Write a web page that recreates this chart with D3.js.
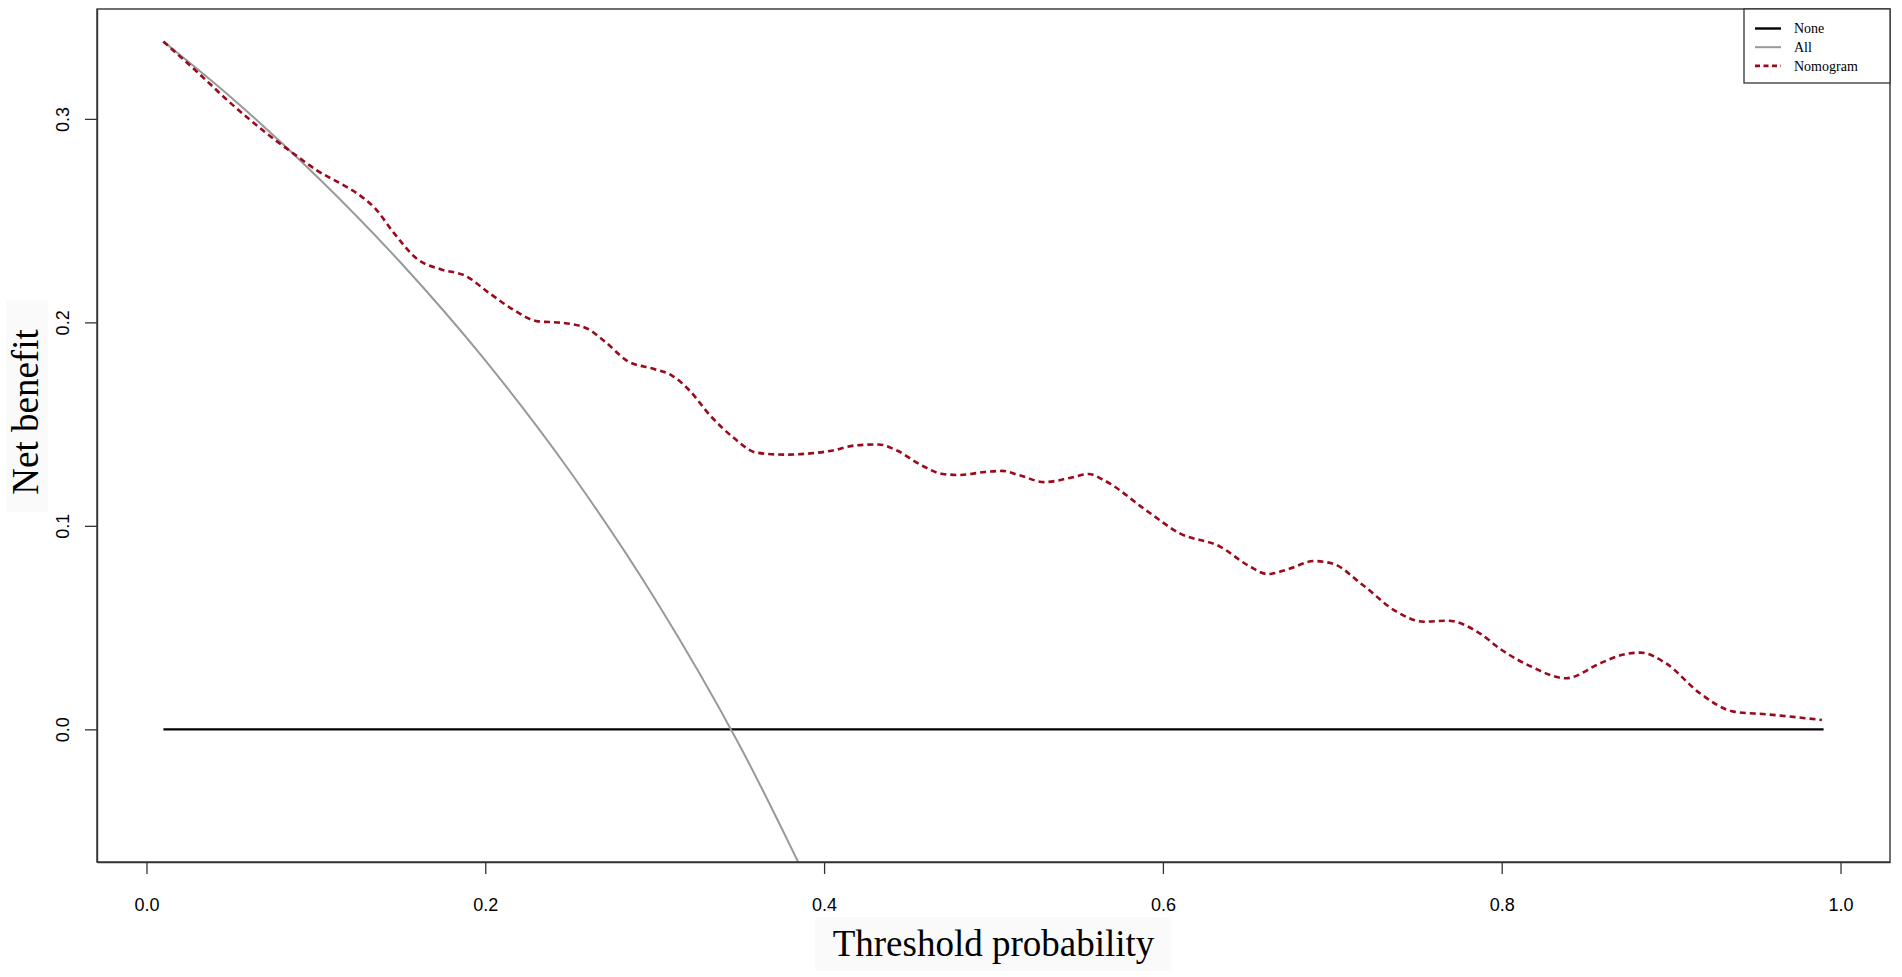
<!DOCTYPE html>
<html>
<head>
<meta charset="utf-8">
<script src="https://cdn.jsdelivr.net/npm/d3@7"></script>
<style>
  body { margin: 0; background: #fff; }
  svg { display: block; }
</style>
</head>
<body>
<svg id="chart"></svg>
<script>
// values
var xTicks = [0.0, 0.2, 0.4, 0.6, 0.8, 1.0];
var yTicks = [0.0, 0.1, 0.2, 0.3];

var nonePts = [[0.01, 0], [0.99, 0]];

var allPts = [
  [0.01, 0.338], [0.05, 0.3105], [0.10, 0.2722], [0.15, 0.2294],
  [0.20, 0.1813], [0.25, 0.1267], [0.30, 0.0643], [0.35, -0.0077],
  [0.40, -0.0917]
];

var nomoThresh = [
  0.01, 0.03, 0.05, 0.07, 0.09, 0.10, 0.115, 0.125, 0.135, 0.146,
  0.16, 0.174, 0.188, 0.203, 0.217, 0.231, 0.245, 0.26, 0.27, 0.284,
  0.30, 0.31, 0.32, 0.333, 0.347, 0.36, 0.376, 0.392, 0.405, 0.418,
  0.432, 0.443, 0.457, 0.47, 0.48, 0.495, 0.505, 0.515, 0.53, 0.545,
  0.556, 0.565, 0.59, 0.61, 0.634, 0.65, 0.662, 0.675, 0.689, 0.70,
  0.718, 0.738, 0.754, 0.768, 0.787, 0.80, 0.817, 0.838, 0.858, 0.872,
  0.882, 0.897, 0.917, 0.937, 0.956, 0.989
];
var nomoBenefit = [
  0.338, 0.323, 0.3075, 0.2935, 0.281, 0.275, 0.268, 0.263, 0.256, 0.244,
  0.231, 0.226, 0.223, 0.214, 0.206, 0.2005, 0.1998, 0.197, 0.191, 0.181,
  0.177, 0.174, 0.167, 0.154, 0.143, 0.136, 0.135, 0.1356, 0.137, 0.1395,
  0.140, 0.137, 0.130, 0.1255, 0.125, 0.1265, 0.127, 0.125, 0.1215, 0.1235,
  0.1255, 0.1225, 0.1077, 0.0963, 0.0897, 0.0807, 0.0763, 0.079, 0.0827, 0.0815,
  0.0709, 0.0578, 0.0529, 0.0534, 0.0472, 0.039, 0.031, 0.0251, 0.0324, 0.0368,
  0.0377, 0.0324, 0.0177, 0.0087, 0.0074, 0.0046
];

var legendKeys = ["None", "All", "Nomogram"];

var W = 1902, H = 977;
var box = {left: 97, right: 1890, top: 9, bottom: 862};

var svg = d3.select("#chart")
    .attr("width", W)
    .attr("height", H);

var x = d3.scaleLinear()
  .domain([-0.0292, 1.0292])
  .range([box.left, box.right]);

var y = d3.scaleLinear()
  .domain([-0.0652, 0.354])
  .range([box.bottom, box.top]);

var styles = {
  "None": {stroke: "#000", width: 2.4, dash: null},
  "All": {stroke: "#999", width: 2, dash: null},
  "Nomogram": {stroke: "#9b0a1c", width: 2.6, dash: "6,4"}
};

svg.append("defs").append("clipPath")
    .attr("id", "plotclip")
  .append("rect")
    .attr("x", box.left)
    .attr("y", box.top)
    .attr("width", box.right - box.left)
    .attr("height", box.bottom - box.top);

// faint backgrounds behind the axis titles
svg.append("rect")
  .attr("x", 815).attr("y", 917)
  .attr("width", 356).attr("height", 54)
  .attr("fill", "#fafafa");
svg.append("rect")
  .attr("x", 6).attr("y", 300)
  .attr("width", 42).attr("height", 212)
  .attr("fill", "#fafafa");

var line = d3.line()
  .x(function(d) { return x(d[0]); })
  .y(function(d) { return y(d[1]); })
  .curve(d3.curveMonotoneX);

var nomoPts = nomoThresh.map(function(t, i) { return [t, nomoBenefit[i]]; });

var series = [
  {key: "None", values: nonePts},
  {key: "All", values: allPts},
  {key: "Nomogram", values: nomoPts}
];

svg.append("g")
    .attr("clip-path", "url(#plotclip)")
  .selectAll("path")
  .data(series)
  .enter().append("path")
    .attr("d", function(d) { return line(d.values); })
    .attr("fill", "none")
    .attr("stroke", function(d) { return styles[d.key].stroke; })
    .attr("stroke-width", function(d) { return styles[d.key].width; })
    .attr("stroke-dasharray", function(d) { return styles[d.key].dash; });

// plot frame
svg.append("rect")
  .attr("x", box.left)
  .attr("y", box.top)
  .attr("width", box.right - box.left)
  .attr("height", box.bottom - box.top)
  .attr("fill", "none")
  .attr("stroke", "#333")
  .attr("stroke-width", 1.4);

// x axis
var xAxis = svg.append("g")
  .attr("class", "x axis")
  .attr("transform", "translate(0," + box.bottom + ")")
  .call(d3.axisBottom(x).tickValues(xTicks).tickFormat(d3.format(".1f")).tickSizeInner(12).tickSizeOuter(0).tickPadding(24));
xAxis.select(".domain").attr("stroke", "#333").attr("stroke-width", 1.4);
xAxis.selectAll(".tick line").attr("stroke", "#333").attr("stroke-width", 1.3);
xAxis.selectAll(".tick text")
  .attr("font-family", "Liberation Sans, Arial, sans-serif")
  .attr("font-size", 18)
  .attr("fill", "#000");

// y axis, labels rotated like R's default
var yAxis = svg.append("g")
  .attr("class", "y axis")
  .attr("transform", "translate(" + box.left + ",0)")
  .call(d3.axisLeft(y).tickValues(yTicks).tickFormat(d3.format(".1f")).tickSizeInner(12).tickSizeOuter(0));
yAxis.select(".domain").attr("stroke", "#333").attr("stroke-width", 1.4);
yAxis.selectAll(".tick line").attr("stroke", "#333").attr("stroke-width", 1.3);
yAxis.selectAll(".tick text")
  .attr("x", null)
  .attr("dy", null)
  .attr("text-anchor", "middle")
  .attr("transform", "translate(-28,0) rotate(-90)")
  .attr("font-family", "Liberation Sans, Arial, sans-serif")
  .attr("font-size", 18)
  .attr("fill", "#000");

// axis titles
svg.append("text")
  .attr("x", (box.left + box.right) / 2)
  .attr("y", 956)
  .attr("text-anchor", "middle")
  .attr("font-family", "Liberation Serif, Times New Roman, serif")
  .attr("font-size", 37)
  .attr("fill", "#000")
  .text("Threshold probability");

svg.append("text")
  .attr("transform", "translate(38,412) rotate(-90)")
  .attr("text-anchor", "middle")
  .attr("font-family", "Liberation Serif, Times New Roman, serif")
  .attr("font-size", 37)
  .attr("fill", "#000")
  .text("Net benefit");

// legend
var legend = svg.append("g").attr("class", "legend");
legend.append("rect")
  .attr("x", 1744)
  .attr("y", box.top)
  .attr("width", box.right - 1744)
  .attr("height", 74)
  .attr("fill", "#fff")
  .attr("stroke", "#333")
  .attr("stroke-width", 1.3);

var item = legend.selectAll("g.item")
  .data(legendKeys)
  .enter().append("g")
    .attr("class", "item")
    .attr("transform", function(d, i) { return "translate(0," + (28.5 + i * 18.7) + ")"; });

item.append("line")
  .attr("x1", 1755).attr("x2", 1781)
  .attr("y1", 0).attr("y2", 0)
  .attr("stroke", function(d) { return styles[d].stroke; })
  .attr("stroke-width", function(d) { return styles[d].width; })
  .attr("stroke-dasharray", function(d) { return styles[d].dash ? "5,3.5" : null; });

item.append("text")
  .attr("x", 1794)
  .attr("y", 0)
  .attr("dy", "0.33em")
  .attr("font-family", "Liberation Serif, Times New Roman, serif")
  .attr("font-size", 14)
  .attr("fill", "#000")
  .text(function(d) { return d; });
</script>
</body>
</html>
